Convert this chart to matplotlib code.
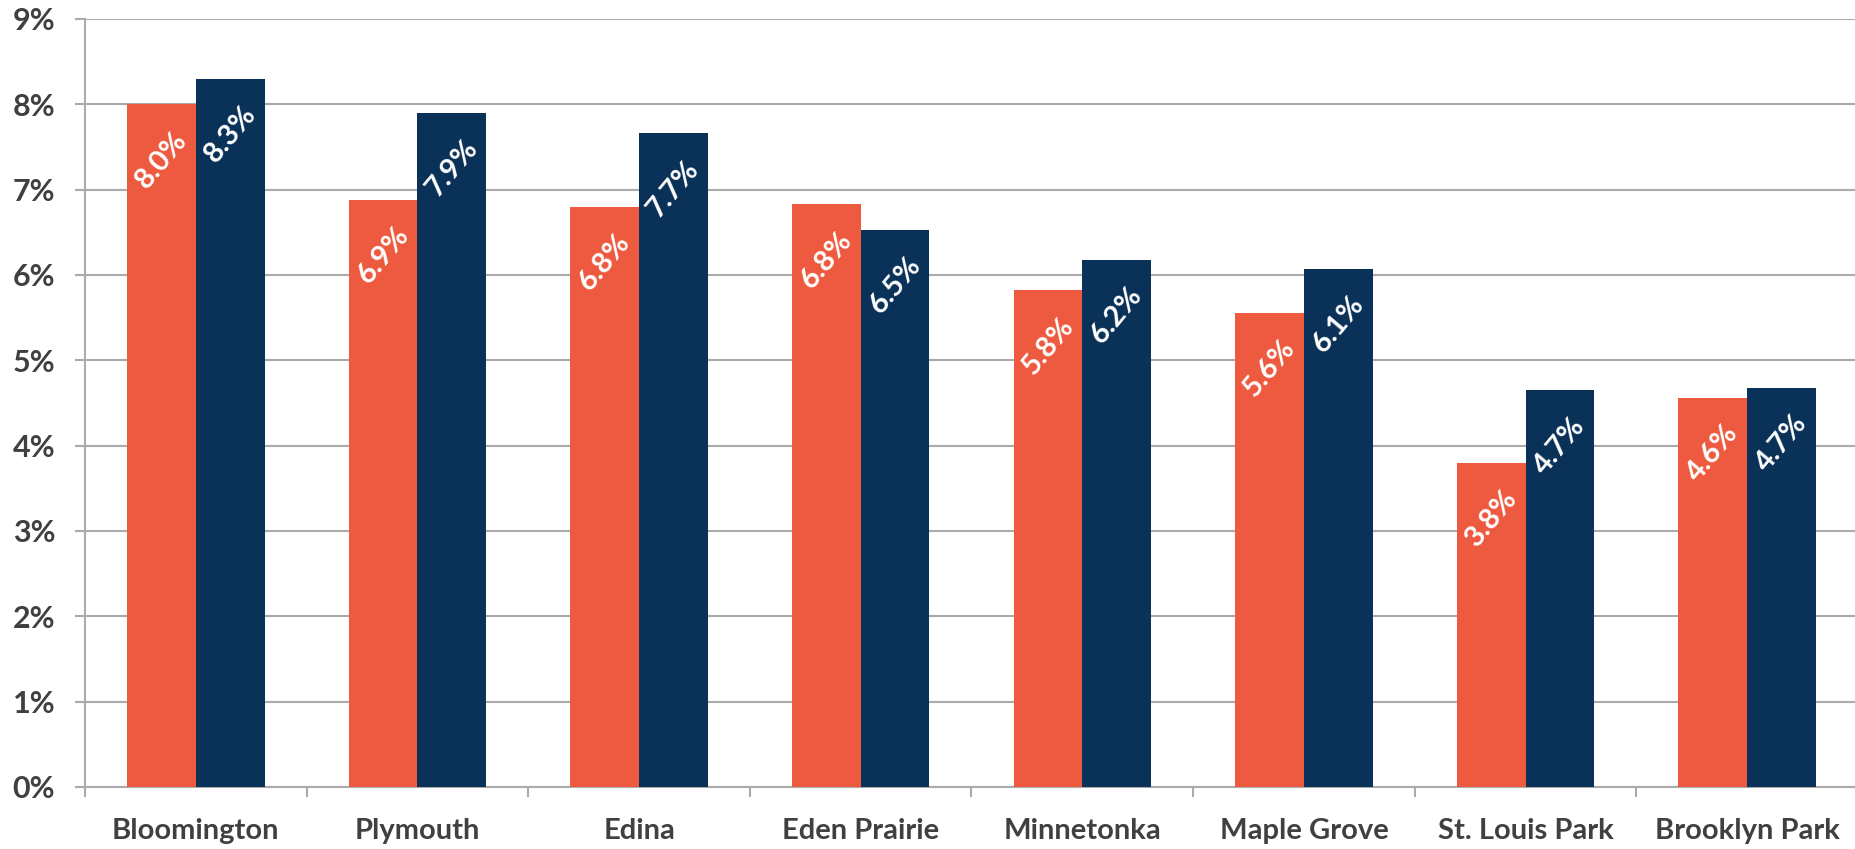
import numpy as np
import matplotlib.pyplot as plt
from matplotlib.ticker import FuncFormatter

plt.rcParams['font.family'] = ['Lato', 'DejaVu Sans']
plt.rcParams['font.weight'] = 'bold'

cities = ['Bloomington', 'Plymouth', 'Edina', 'Eden Prairie', 'Minnetonka',
          'Maple Grove', 'St. Louis Park', 'Brooklyn Park']
series_a = [8.0, 6.88, 6.80, 6.83, 5.82, 5.56, 3.80, 4.56]
series_b = [8.30, 7.90, 7.66, 6.53, 6.18, 6.07, 4.65, 4.68]
yticks = [0, 1, 2, 3, 4, 5, 6, 7, 8, 9]

orange = '#EE5A3F'
navy = '#0A3157'
grid_c = '#ABABAB'
text_c = '#404040'

fig = plt.figure(figsize=(18.55, 8.49), dpi=100)
ax = fig.add_axes([85 / 1855, 1 - 787 / 849, (1858 - 85) / 1855, (787 - 19) / 849])

x = np.arange(len(cities))
w = 0.31
ba = ax.bar(x - w / 2, series_a, w, color=orange, zorder=3)
bb = ax.bar(x + w / 2, series_b, w, color=navy, zorder=3)

for bars, vals in [(ba, series_a), (bb, series_b)]:
    for r, v in zip(bars, vals):
        ax.annotate(f'{v:.1f}%', (r.get_x() + r.get_width() / 2, v),
                    xytext=(0, -40), textcoords='offset points',
                    ha='center', va='center', rotation=50,
                    color='white', fontsize=21, fontweight='bold', zorder=4)

ax.set_xlim(-0.5, len(cities) - 0.5)
ax.set_ylim(0, 9)
ax.set_yticks(yticks)
ax.yaxis.set_major_formatter(FuncFormatter(lambda v, p: f'{v:.0f}%'))
ax.grid(axis='y', color=grid_c, linewidth=1.5, zorder=0)

ax.set_xticks(x)
ax.set_xticklabels(cities)
ax.set_xticks(np.arange(len(cities) + 1) - 0.5, minor=True)
ax.tick_params(axis='x', which='major', length=0, pad=22, labelsize=21, labelcolor=text_c)
ax.tick_params(axis='x', which='minor', length=7.5, width=1.5, color=grid_c)
ax.tick_params(axis='y', length=7.5, width=1.5, color=grid_c, pad=14,
               labelsize=22, labelcolor=text_c)

for s in ['top', 'right']:
    ax.spines[s].set_visible(False)
for s in ['left', 'bottom']:
    ax.spines[s].set_color(grid_c)
    ax.spines[s].set_linewidth(1.5)

fig.savefig('out.png', dpi=100)
